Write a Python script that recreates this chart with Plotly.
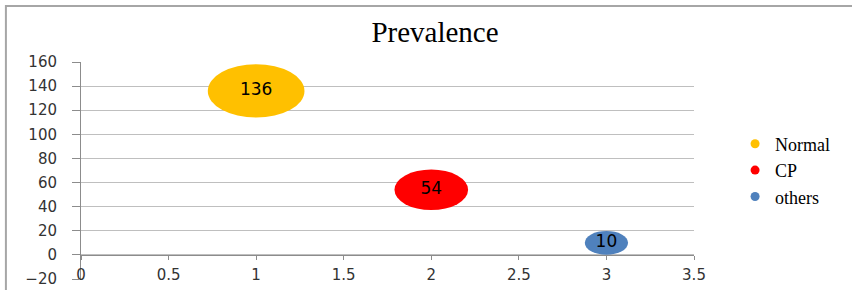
import numpy as np
import plotly.graph_objects as go

# ---- data ----
categories = ["Normal", "CP", "others"]
x_values = [1, 2, 3]
y_values = [136, 54, 10]
bubble_size = [100, 58, 20]          # relative bubble areas
labels = ["136", "54", "10"]
colors = ["#FFC000", "#FF0000", "#4F81BD"]

x_range = [0, 3.5]
y_range = [-20, 160]

# bubble scale (ellipse: the picture is horizontally stretched)
kx = 0.0552
ky = 4.42

fig = go.Figure()

shapes = []
for xv, yv, s, c in zip(x_values, y_values, bubble_size, colors):
    r = np.sqrt(s)
    shapes.append(dict(type="circle", xref="x", yref="y",
                       x0=xv - kx * r / 2, x1=xv + kx * r / 2,
                       y0=yv - ky * r / 2, y1=yv + ky * r / 2,
                       fillcolor=c, line=dict(width=0), layer="between"))

# outer chart frame
shapes.append(dict(type="rect", xref="paper", yref="paper",
                   x0=-0.1225, x1=1.4, y0=-0.2, y1=1.258,
                   line=dict(color="#a6a6a6", width=2), layer="below"))

# labels in bubbles
fig.add_trace(go.Scatter(x=x_values, y=y_values, mode="text", text=labels,
                         textposition="middle center",
                         textfont=dict(family="DejaVu Sans", size=17, color="#000000"),
                         showlegend=False, hoverinfo="skip"))

# legend entries
for name, c in zip(categories, colors):
    fig.add_trace(go.Scatter(x=[None], y=[None], mode="markers", name=name,
                             marker=dict(color=c, size=9, symbol="circle")))

x_pos = (0 - y_range[0]) / (y_range[1] - y_range[0])

fig.update_layout(
    width=852, height=290,
    margin=dict(l=81, r=158, t=62, b=11, autoexpand=False),
    paper_bgcolor="white", plot_bgcolor="white",
    shapes=shapes,
    title=dict(text="Prevalence", x=0.5775, xref="paper", y=1 - 32 / 290,
               yref="container", xanchor="center", yanchor="middle",
               font=dict(family="Liberation Serif", size=29, color="#000000")),
    legend=dict(x=1.067, y=0.5, xanchor="left", yanchor="middle",
                font=dict(family="Liberation Serif", size=18, color="#000000"),
                bgcolor="rgba(0,0,0,0)", borderwidth=0),
    xaxis=dict(range=x_range, dtick=0.5, tick0=0, showgrid=False, zeroline=False,
               showline=True, linecolor="#8c8c8c", linewidth=1, automargin=False,
               ticks="outside", ticklen=4, tickcolor="#8c8c8c",
               anchor="free", position=x_pos, ticklabelstandoff=2,
               tickfont=dict(family="DejaVu Sans", size=15, color="#333333")),
    yaxis=dict(range=y_range, dtick=20, tick0=0, showgrid=True, gridcolor="#bfbfbf",
               zeroline=False, showline=True, linecolor="#8c8c8c", linewidth=1,
               automargin=False,
               ticks="outside", ticklen=8, tickcolor="#8c8c8c", ticklabelstandoff=12,
               tickfont=dict(family="DejaVu Sans", size=15, color="#333333")),
)

fig.write_html("out.html", config={"displayModeBar": False},
               post_script="document.body.style.margin='0';")
